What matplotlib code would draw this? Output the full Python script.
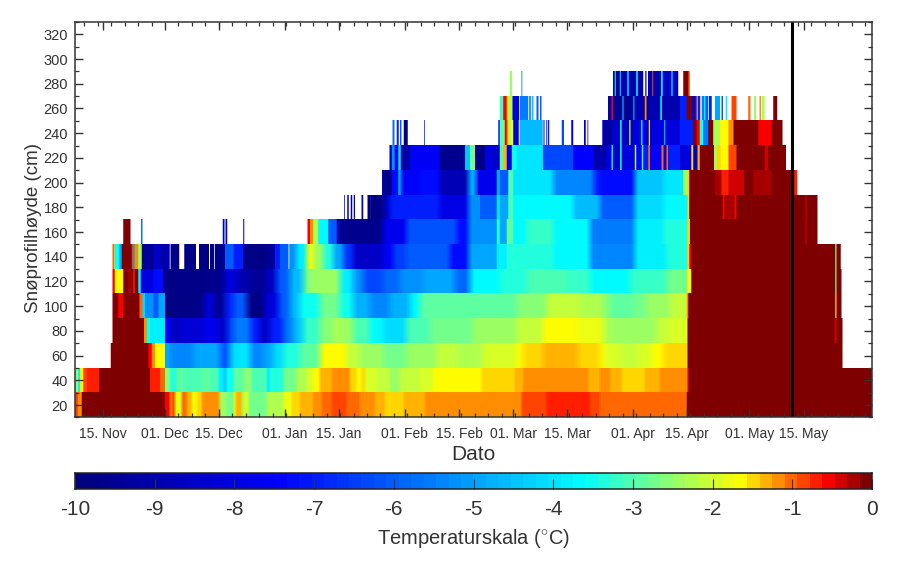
import numpy as np
import matplotlib
matplotlib.use("Agg")
import matplotlib.pyplot as plt
from matplotlib.colors import LinearSegmentedColormap, Normalize

plt.rcParams['font.family'] = ['Liberation Sans', 'DejaVu Sans']
plt.rcParams['mathtext.fontset'] = 'custom'
plt.rcParams['mathtext.rm'] = 'Liberation Sans'

# Days since 1 November, temperature from that day on (None = no snow sensor value)
ROW_20 = [(6.7,-0.9),(7.5,-1.2),(8.5,0),(26.5,-0.1),(26.7,0),(30,-0.6),(31.3,-1.3),(31.7,-0.8),(32.6,-1.6),(33.4,-1.9),
          (34.3,-1.0),(35.6,-1.3),(36.9,-1.7),(38.2,-1.5),(39.5,-1.2),(41.6,-1.1),(43.8,-1.4),(44.2,-2.4),(45.9,-2.7),
          (47.7,-2.0),(48.3,-1.4),(49.8,-2.3),(50.7,-1.8),(51.5,-2.7),(56.3,-2.2),(60.6,-1.8),(62.7,-1.55),(64.9,-1.35),
          (66.6,-1.4),(68.3,-1.1),(70.5,-0.95),(73.1,-0.85),(75.2,-0.8),(76.9,-1.0),(80.4,-1.1),(84.2,-1.3),(86.8,-1.55),(88.1,-1.45),
          (91.6,-1.3),(97.2,-1.15),(104.5,-1.25),(106.2,-1.1),(108.4,-1.25),(110.9,-1.1),(122.1,-0.85),(128.6,-0.78),
          (139.8,-0.85),(142.4,-0.95),(148.9,-1.05),(157.7,-0.95),(164.8,-0.1),(165.2,0),(213,None)]
ROW_40 = [(6.7,-2.6),(7.6,-3.8),(8,-1.7),(8.9,-0.9),(9.8,-0.7),(11.5,-0.65),(13,0),(26.1,-0.65),(28.7,-1.0),(30,-2.6),
          (31.3,-3.3),(33,-2.9),(34.7,-3.1),(36.9,-3.0),(39.5,-2.9),(41.6,-3.1),(43.8,-3.9),(45.1,-4.5),(45.9,-3.5),
          (47.7,-2.9),(50.2,-2.6),(52.4,-3.0),(56.3,-3.8),(57.1,-3.3),(60.6,-2.8),(64,-2.3),(66.6,-1.9),(68.3,-1.6),
          (70,-1.3),(73.1,-1.15),(77.8,-1.45),(79.5,-1.65),(80.8,-1.45),(81.7,-1.9),(84.7,-2.15),(88.1,-2.4),(90.7,-2.1),
          (95.9,-1.95),(99.3,-1.65),(111.8,-1.45),(120.4,-1.3),(122.6,-1.2),(128.6,-1.1),(139.4,-1.3),(142.4,-1.2),(145,-1.4),
          (148,-1.55),(154,-1.4),(157.9,-1.2),(165,-0.4),(165.5,0),(213,None)]
ROW_60 = [(16.0,0),(25.7,-0.5),(26.6,-1.2),(27.4,-1.6),(30,-5.0),(31.3,-5.4),(37.3,-5.0),(44.2,-5.9),(45.0,-6.5),(45.8,-5.9),
          (46.8,-4.2),(48.5,-4.0),(52,-5.4),(55.4,-5),(58,-4.2),(60.6,-3.4),(64.9,-2.9),(70.1,-1.65),(76.9,-2.1),(80.4,-2.4),
          (83.8,-2.5),(86.4,-2.8),(92.4,-2.35),(100.2,-2.1),(105.4,-2.2),(112.2,-1.9),(120.9,-1.65),(122.6,-1.5),(127.7,-1.4),
          (136.8,-1.5),(142.4,-1.65),(143.7,-1.9),(148,-2.1),(151.9,-1.9),(155.8,-1.65),(158.8,-1.5),(165,0),(205.1,None)]
ROW_80 = [(16.4,0),(24.6,-1.2),(25.3,-3.5),(26.1,-3.9),(30,-7.5),(31.3,-8.7),(33.9,-8.2),(40.3,-7.7),(43.8,-8.5),(46,-6.5),
          (47.7,-5.5),(52,-7),(54.5,-8.5),(57.1,-7),(60.6,-5.6),(63.2,-4.5),(65.7,-3.2),(70,-2.6),(73.5,-2.3),(75.2,-2.4),(78.6,-3.1),
          (83,-3.6),(86.4,-4.1),(92.4,-3.1),(98.5,-2.8),(109.6,-2.45),(120.9,-2.1),(127.7,-1.65),(136.4,-1.85),(143.2,-2.2),
          (145,-2.5),(151.9,-2.4),(157,-2.1),(160,-1.9),(165,0),(203.1,-0.35),(203.6,0),(205.1,None)]
ROW_100 = [(16.4,0),(17.9,-0.5),(19.2,0),(23.4,-1.0),(24.2,-4.2),(24.8,-5.3),(27,-6),(28.3,-5),(30,-9.7),(40.3,-8),(42.5,-9.5),
           (45.5,-7),(47.7,-6),(51.1,-9.7),(55.8,-8),(59.3,-6),(62.3,-4.6),(64.9,-3.5),(70,-2.7),(75.2,-3.5),(78.6,-4.8),(83,-5.4),
           (88.1,-4.8),(93.3,-3.7),(95.9,-2.85),(120.9,-2.55),(128.6,-2.05),(137.2,-2.2),(143.2,-2.55),(145,-2.85),(151,-2.7),
           (154.5,-2.5),(160.5,-2.1),(164.8,-1.2),(165.2,0),(203.2,-1.5),(203.5,0),(204.8,None)]
ROW_120 = [(16.4,-0.5),(17,-1.6),(19.2,0),(20.5,-0.3),(21.3,0),(21.8,-0.7),(22.2,0),(23.1,-3.8),(23.7,-8),(27,-7.2),(29.6,-9.8),
           (41.2,-9.6),(45.5,-8),(48.5,-9),(52,-9.5),(56.3,-8.5),(58.9,-6),(62.3,-4.6),(65.7,-2.9),(67,-2.4),(75.2,-3.8),
           (78.6,-5.2),(81.2,-6.3),(86.4,-5.9),(90.7,-5.3),(96.7,-5.0),(104.9,-5.8),(108.8,-3.6),(116.5,-3.35),(123.5,-3.0),
           (133.8,-3.2),(139.8,-3.6),(150.2,-3.2),(159.6,-2.75),(165,-1.6),(166,0),(203.2,-2.6),(203.5,0),(204.8,None)]
ROW_140 = [(16.4,-1.0),(16.9,-2.5),(17.1,-3.5),(18.2,-5),(18.8,0),(21.4,-0.8),(21.8,-5),(22.2,-1.2),(23.1,-2.5),(24,-9.5),(27,-8.5),
           (28.7,-9),(31.2,None),(31.4,-9.8),(33.7,None),(35,-9.7),(38,None),(38.8,-9.7),(41.4,None),(41.6,-9.7),(42.7,None),
           (42.9,-9.6),(45.5,-6),(47.7,-7),(50.2,-9.8),(56.3,-9.5),(58.4,-7),(59.7,-6),(61.9,None),(62.1,-5.2),(64,-3.9),
           (66.6,-1.6),(68.3,-2.4),(70.9,-3.4),(73.5,-5),(76.1,-6.6),(78.6,-8.5),(86.4,-7.6),(89,-6.5),(92.4,-6),(103.6,-7.3),
           (108.4,-5),(115.7,-3.9),(118.3,-3.4),(130.3,-3.6),(139.8,-5.4),(151.4,-3.8),(159.6,-3.3),(165,-1.5),(165.5,-0.5),
           (166,0),(203.2,-2.6),(203.5,0),(204.6,None)]
ROW_160 = [(19.2,0),(21.1,None),(23.8,-5.7),(24.2,None),(44.9,-9),(45.4,None),(45.6,-8.5),(46.1,None),(50.2,-9),(50.5,None),
           (66.8,-0.5),(67.5,-1.2),(68.3,-2.2),(69.6,-3.6),(72.2,-6),(74.4,-9),(75.2,-9.6),(86.4,-7.7),(92.4,-6.2),
           (105.4,-7.2),(108.4,-5.2),(115.7,-3.4),(116.5,-5),(118.3,-2.9),(120,-3.7),(123.4,-3.2),(130.3,-3.6),(139.8,-5.5),
           (151.4,-3.9),(158.8,-3.3),(165,-1.5),(165.7,0),(195.4,-0.2),(195.9,0),(198.6,None)]
ROW_180 = [(76.3,-8.5),(76.5,None),(77.1,-9.5),(77.5,None),(78,-9.5),(78.4,None),(78.8,-9),(79.1,None),(80.8,-8.5),(81.2,None),
           (82.3,-9.8),(86.4,-8.6),(88.1,-6.9),(101,-7.9),(108.4,-5.2),(111.4,-6),(115.7,-4),(116.5,-5),(118.7,-3),
           (120,-3.7),(135.5,-4.6),(142.4,-6),(151.4,-4.2),(158.8,-3.6),(165,-1.5),(165.5,0),(174.1,-0.5),(174.6,-0.3),
           (177.2,-0.5),(177.7,0),(185.5,-0.15),(185.9,0),(195.4,-0.3),(196,0),(198.6,None)]
ROW_200 = [(86.1,-9),(86.8,-9.8),(88.6,-7.3),(90.3,-5),(90.9,-7.6),(95.9,-7.3),(101,-8.8),(108.4,-4.7),(110.5,-7.7),(115.7,-4.8),
           (116.5,-6),(118.7,-3),(120,-4),(130.3,-5.4),(140.7,-7),(142.4,-7.2),(151.4,-4.5),(158.8,-4),(163.9,-2.5),(165,-1.5),
           (165.5,0),(172.1,-0.2),(173.8,-0.75),(175.6,-0.4),(179.6,0),(182,-0.25),(186.8,0),(192.6,-0.7),(193.4,None)]
ROW_220 = [(88,-9),(88.6,-5.3),(89.4,-7.6),(90.3,-4),(90.9,-9.2),(93.3,-7.6),(101,-9.6),(107.5,-4.5),(108.8,-2.8),
           (110.1,-9.8),(112.7,-8),(114.8,-8.5),(116.5,-3.0),(117.4,-1.3),(118.3,-7.8),(119.6,-3.5),(120.9,-4),(127.7,-6.4),
           (135.5,-7.5),(140.7,-9),(144.1,-8),(145.4,-4),(145.8,-8.5),(147.6,-4),(148,-8),(151.4,-2.4),(151.8,-7.5),(153.2,-3),
           (153.6,-7),(154.9,-1.0),(155.3,-7.5),(158.3,-1),(158.8,-7.8),(159.6,-1),(160,-7),(163.1,-8),(166,-1.5),(166.5,-8.5),
           (167.6,-1.4),(168.2,0),(171.9,-2.4),(172.6,-1.5),(173.6,-1.6),(175.6,-0.8),(177.7,0),(185,-0.4),(185.9,0),(190.5,None)]
ROW_240 = [(88.8,-5.7),(89.3,None),(89.9,-7),(90.4,None),(90.7,-6),(91.1,None),(91.7,-9.8),(92.7,None),(96.9,-7),(97.1,None),
           (116.1,-7),(116.5,-2.9),(117.8,-0.6),(118.3,-1.2),(118.7,-2.2),(119.4,-1.8),(120,-8),(121.4,None),(121.7,-4.6),(127.6,None),
           (127.8,-8),(128.1,None),(128.5,-7),(128.8,None),(129,-7),(129.3,None),(132.5,-6.3),(133.1,None),(135,-8),(135.5,None),
           (138.3,-8.5),(138.7,None),(139.2,-8),(139.4,None),(143,-8),(143.3,-9.3),(145.4,-8.5),(147.6,-4),(148,-8.5),(150,-2),(150.3,-8.5),
           (151.4,-8),(153,-4),(153.4,-8),(155,-1.5),(155.3,-8),(159,-4),(159.3,-8),(163,-7),(166.5,0),(167.4,-0.6),(168.2,-3.3),
           (169.1,-5.5),(170.4,0),(171.7,-2.2),(173.4,-1.7),(175.6,-1.2),(176.9,0),(183.3,-0.6),(185.5,-0.5),(186.8,0),(189.6,None)]
ROW_260 = [(116.5,-3.2),(117.4,-0.6),(118.3,-1.5),(118.7,-2.2),(119.8,-8),(121.5,None),(121.7,-5.6),(123.9,None),(124.1,-6),(124.5,None),
           (124.8,-4.5),(125.2,None),(126,-6),(126.5,None),(126.9,-6),(127.3,None),(144.5,-9),(145.4,-0.5),(145.8,-9.5),(148.2,-4),
           (148.5,-9.5),(151,-5),(151.3,-9),(154,-1.2),(154.4,-9),(158,-4),(158.4,-9),(163.1,-7),(164.8,0),(166.1,-8),(167,0),
           (167.4,None),(167.6,-7),(168.3,None),(168.7,-5.5),(169.3,-3.8),(169.7,-6),(170.4,None),(170.6,-7),(171.3,None),(172.1,-5),
           (173.4,None),(173.8,-6),(174.2,None),(174.9,-4),(175.3,None),(176.4,-0.9),(177.7,None),(180.7,-1),(181.3,None),(182.2,-2.5),
           (182.7,None),(183.6,-1.2),(184,None),(184.3,-2.2),(185,None),(187.2,0),(188.2,None)]
ROW_280 = [(119.1,-2.5),(119.7,None),(122.1,-6),(122.3,None),(145.8,-8.5),(146.2,-3.5),(146.5,-9.5),(147.5,-4),(147.8,-9),(149.4,-5),
           (149.9,-9),(151.7,-4.5),(152.2,-9),(153.6,None),(154.1,-8),(154.4,None),(154.8,-9),(155.9,-0.9),(156.2,-9),(158.2,-4),(158.6,-8.5),
           (160.8,-4.5),(161.2,-8.5),(162.6,None),(163.9,0),(165.2,-0.8),(165.6,None)]

HEIGHTS = [20, 40, 60, 80, 100, 120, 140, 160, 180, 200, 220, 240, 260, 280]
ROWS = [ROW_20, ROW_40, ROW_60, ROW_80, ROW_100, ROW_120, ROW_140,
        ROW_160, ROW_180, ROW_200, ROW_220, ROW_240, ROW_260, ROW_280]
TICK_DAYS = [14, 30, 44, 61, 75, 92, 106, 120, 134, 151, 165, 181, 195]
TICK_LABELS = ['15. Nov', '01. Dec', '15. Dec', '01. Jan', '15. Jan', '01. Feb', '15. Feb',
               '01. Mar', '15. Mar', '01. Apr', '15. Apr', '01. May', '15. May']
LINE_DAY = 192.0
XLIM = (6.74, 212.7)
YLIM = (10, 330)
W, H = 911, 571

cmap = LinearSegmentedColormap.from_list('snow', [
    (0.0, (0, 0, .5)), (.254, (0, 0, 1)), (.45, (0, .5, 1)), (.64, (0, 1, 1)), (.74, (.5, 1, .5)),
    (.84, (1, 1, 0)), (.95, (1, 0, 0)), (1.0, (.5, 0, 0))], N=64)
norm = Normalize(-10, 0)

fig = plt.figure(figsize=(W / 100, H / 100), dpi=100)
ax = fig.add_axes([75 / W, 1 - 417.4 / H, 797 / W, 395.4 / H])

# Each row's runs go on a fine day grid, then columns are averaged down to one pixel each
sub = 4
ncols = 797
centres = XLIM[0] + (np.arange(ncols * sub) + .5) * (XLIM[1] - XLIM[0]) / (ncols * sub)
Z = np.full((len(ROWS), ncols * sub), np.nan)
for r, runs in enumerate(ROWS):
    for (d0, v), (d1, _) in zip(runs[:-1], runs[1:]):
        if v is not None:
            Z[r, (centres >= d0) & (centres < d1)] = v
rgba = cmap(norm(np.nan_to_num(Z, nan=0.0)))
rgba[..., :3] = np.where(np.isnan(Z)[..., None], 1.0, rgba[..., :3])
rgba = rgba.reshape(len(ROWS), ncols, sub, 4).mean(axis=2)

# The source image is soft along time inside the winter period: soften the display the same way,
# but only after each row's snow-gap period so that the gaps stay sharp
px_centres = centres[sub // 2::sub]
SOFT_START = {140: 63, 160: 75, 180: 83, 200: 91}
for r, h in enumerate(HEIGHTS):
    if h > 200:
        continue
    k = 3 if h <= 40 else (9 if h <= 120 else 7)
    window = (px_centres > SOFT_START.get(h, 31)) & (px_centres < 163.5)
    if h > 120:
        window &= ~((px_centres > 111) & (px_centres < 121))
    smooth = np.stack([np.convolve(np.pad(rgba[r, :, c], k, mode='edge'), np.ones(k) / k, mode='same')[k:-k]
                       for c in range(3)], axis=1)
    rgba[r, window, :3] = smooth[window]

ax.imshow(rgba, origin='lower', aspect='auto', interpolation='nearest',
          extent=[XLIM[0], XLIM[1], HEIGHTS[0] - 10, HEIGHTS[-1] + 10])
ax.axvline(LINE_DAY, color='black', lw=2.2)
ax.set_xlim(*XLIM)
ax.set_ylim(*YLIM)

ax.set_xticks(TICK_DAYS)
ax.set_xticklabels(TICK_LABELS)
ax.set_xticks(np.arange(30 - 6 * 3.48, XLIM[1], 3.48), minor=True)
ax.set_yticks(np.arange(20, 321, 20))
ax.set_yticks(np.arange(10, 331, 10), minor=True)
ax.tick_params(which='major', direction='in', top=True, right=True, length=6, width=1,
               color='#333333', labelsize=10.5, labelcolor='#333333', pad=5)
ax.tick_params(which='minor', direction='in', top=True, right=True, length=3, width=.9, color='#333333')
ax.tick_params(axis='x', which='major', labelsize=10, pad=7)
for s in ax.spines.values():
    s.set_linewidth(1.1)
    s.set_color('#333333')
ax.set_ylabel('Snøprofilhøyde (cm)', fontsize=13.5, color='#333333')
ax.yaxis.set_label_coords(-0.042, 0.48)
ax.set_xlabel('Dato', fontsize=15, color='#333333', labelpad=3)

cax = fig.add_axes([75 / W, 1 - 489 / H, 797 / W, 16 / H])
grad = np.linspace(-10, 0, 64)[None, :]
cax.imshow(grad, cmap=cmap, norm=norm, aspect='auto', extent=[-10, 0, 0, 1], interpolation='nearest')
cax.set_yticks([])
cax.set_xticks(np.arange(-10, 1))
cax.set_xticklabels(['-10', '-9', '-8', '-7', '-6', '-5', '-4', '-3', '-2', '-1', '0'])
cax.tick_params(axis='x', direction='in', length=7, width=.8, color='#333333', labelsize=15,
                labelcolor='#333333', pad=8)
for s in cax.spines.values():
    s.set_linewidth(1.1)
    s.set_color('#222222')
cax.set_xlabel('Temperaturskala ($^{\\circ}$C)', fontsize=14.5, color='#333333', labelpad=6)

fig.savefig('out.png', dpi=100)
